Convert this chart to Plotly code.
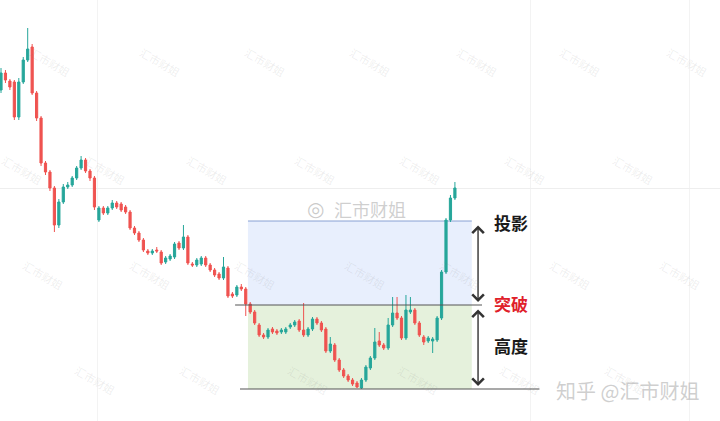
import plotly.graph_objects as go

# ---------------- data (price units) ----------------
opens = [331, 348, 340, 339, 304, 339, 361, 374, 328, 303,
         258, 249, 233, 196, 219, 234, 236, 243, 253, 261,
         250, 243, 201, 213, 208, 213, 218, 217, 214, 209,
         193, 188, 181, 170, 168, 171, 169, 159, 162, 164,
         178, 173, 184, 157, 156, 157, 163, 156, 151, 147,
         143, 153, 127, 126, 134, 132, 117, 109, 96, 86,
         84, 92, 90, 89, 89, 94, 96, 100, 91, 86,
         92, 102, 98, 92, 70, 76, 61, 51, 45, 41,
         38, 33, 41, 53, 63, 80, 76, 73, 96, 108,
         103, 83, 109, 111, 98, 84, 80, 80, 81, 103,
         149, 201, 223]
closes = [348, 341, 334, 304, 339, 361, 372, 328, 303, 258,
          249, 233, 196, 219, 234, 236, 243, 253, 261, 250,
          243, 214, 213, 208, 213, 218, 214, 211, 209, 193,
          188, 181, 171, 168, 170, 170, 158, 163, 165, 177,
          173, 184, 158, 156, 161, 163, 156, 151, 146, 143,
          154, 125, 125, 134, 132, 117, 109, 98, 86, 84,
          91, 89, 88, 91, 92, 96, 99, 91, 86, 92,
          102, 98, 91, 70, 77, 61, 51, 45, 41, 37,
          34, 41, 54, 63, 79, 76, 73, 96, 108, 103,
          83, 111, 111, 98, 86, 79, 83, 82, 103, 149,
          201, 223, 233]
highs = [353, 351, 342, 341, 343, 364, 393, 377, 330, 305,
         260, 251, 235, 222, 237, 239, 245, 255, 265, 263,
         252, 245, 215, 215, 215, 221, 220, 219, 216, 211,
         195, 190, 183, 172, 172, 174, 171, 165, 167, 179,
         180, 196, 186, 159, 163, 165, 165, 158, 153, 149,
         164, 155, 129, 136, 137, 134, 119, 111, 98, 88,
         93, 94, 92, 93, 94, 98, 101, 102, 118, 94,
         104, 104, 100, 94, 84, 78, 63, 53, 47, 43,
         40, 43, 56, 65, 93, 89, 78, 103, 124, 124,
         105, 126, 124, 113, 100, 86, 85, 84, 105, 151,
         203, 226, 239]
lows = [328, 338, 331, 301, 301, 337, 359, 326, 300, 255,
        246, 230, 189, 193, 217, 232, 234, 241, 251, 248,
        240, 211, 199, 206, 206, 211, 212, 209, 207, 191,
        186, 179, 169, 166, 166, 168, 156, 157, 160, 162,
        171, 171, 156, 154, 154, 155, 154, 149, 144, 141,
        141, 123, 123, 124, 130, 105, 107, 96, 84, 82,
        82, 87, 86, 87, 87, 92, 94, 89, 84, 84,
        90, 96, 89, 68, 68, 59, 49, 43, 39, 35,
        33, 32, 39, 51, 61, 74, 71, 71, 94, 101,
        81, 81, 107, 96, 84, 76, 78, 68, 79, 101,
        147, 199, 221]
bars = list(range(len(opens)))

# pattern (range box) definition
box_start, box_end = 55.5, 105.8        # bar index span of the boxes
breakout_level = 116                    # top of the trading range
range_bottom = min(lows[55:99])         # bottom of the trading range
height = breakout_level - range_bottom
projection = breakout_level + height    # measured-move target

labels = ["投影", "突破", "高度"]
label_colors = ["#1a1a1a", "#e0202a", "#1a1a1a"]
label_levels = [projection - 1, breakout_level + 2, range_bottom + height / 2 + 2]

UP, DOWN = "#26a69a", "#ef5350"

fig = go.Figure()
fig.add_trace(go.Candlestick(
    x=bars, open=opens, high=highs, low=lows, close=closes,
    increasing=dict(line=dict(color=UP, width=1), fillcolor=UP),
    decreasing=dict(line=dict(color=DOWN, width=1), fillcolor=DOWN),
    whiskerwidth=0, showlegend=False, hoverinfo="skip"))

shapes = [
    # projection box (blue)
    dict(type="rect", xref="x", yref="y", x0=box_start, x1=box_end,
         y0=breakout_level, y1=projection, layer="below", line_width=0,
         fillcolor="rgba(190,208,250,0.35)"),
    dict(type="line", xref="x", yref="y", x0=box_start, x1=box_end,
         y0=projection, y1=projection, layer="below",
         line=dict(color="rgba(110,140,200,0.8)", width=1)),
    # height box (green)
    dict(type="rect", xref="x", yref="y", x0=box_start, x1=box_end,
         y0=range_bottom, y1=breakout_level, layer="below", line_width=0,
         fillcolor="rgba(160,205,130,0.28)"),
    # breakout line
    dict(type="line", xref="x", yref="y", x0=52.6, x1=108.1,
         y0=breakout_level, y1=breakout_level,
         line=dict(color="#555555", width=1.2)),
    # bottom line
    dict(type="line", xref="x", yref="y", x0=53.7, x1=121.0,
         y0=range_bottom, y1=range_bottom,
         line=dict(color="#555555", width=1.2)),
]

annotations = []
arrow_x = 107.2
for y_from, y_to in [(projection, breakout_level), (breakout_level, range_bottom)]:
    annotations.append(dict(
        x=arrow_x, y=y_to, ax=arrow_x, ay=y_from,
        xref="x", yref="y", axref="x", ayref="y",
        text="", showarrow=True, arrowside="end+start",
        arrowhead=4, startarrowhead=4, arrowsize=1.6, startarrowsize=1.6,
        arrowwidth=1.4, arrowcolor="#333333", standoff=3, startstandoff=3))

for t, c, lv in zip(labels, label_colors, label_levels):
    annotations.append(dict(
        x=114.5, y=lv, xref="x", yref="y", text="<b>%s</b>" % t,
        showarrow=False, xanchor="center",
        font=dict(size=17, color=c, family="Noto Sans CJK SC")))

# faint rotated watermarks
wm_rows = [
    (62, [50, 160, 265, 370, 477, 580, 687]),
    (170, [22, 105, 207, 315, 420, 525, 633]),
    (275, [43, 150, 255, 365, 460, 570, 680]),
    (380, [95, 200, 308, 418, 520, 625]),
]
for py, xs in wm_rows:
    for px in xs:
        annotations.append(dict(
            x=px / 720, y=1 - py / 421, xref="paper", yref="paper",
            xanchor="center", yanchor="middle",
            text="汇市财姐", showarrow=False, textangle=30,
            font=dict(size=11, color="rgba(120,120,120,0.13)",
                      family="Noto Sans CJK SC")))

# weibo watermark
annotations.append(dict(x=315 / 720, y=1 - 209 / 421, xref="paper", yref="paper",
                        xanchor="center", yanchor="middle",
                        text="◎", showarrow=False,
                        font=dict(size=20, color="rgba(150,150,150,0.5)",
                                  family="DejaVu Sans")))
annotations.append(dict(x=370 / 720, y=1 - 209 / 421, xref="paper", yref="paper",
                        xanchor="center", yanchor="middle",
                        text="汇市财姐", showarrow=False,
                        font=dict(size=18, color="rgba(160,160,160,0.5)",
                                  family="Noto Sans CJK SC")))
# zhihu watermark
annotations.append(dict(x=627 / 720, y=1 - 390 / 421, xref="paper", yref="paper",
                        xanchor="center", yanchor="middle",
                        text="知乎 @汇市财姐", showarrow=False,
                        font=dict(size=20, color="rgba(175,175,175,0.6)",
                                  family="Noto Sans CJK SC")))

fig.update_layout(
    width=720, height=421, margin=dict(l=0, r=0, t=0, b=0),
    paper_bgcolor="white", plot_bgcolor="white",
    shapes=shapes, annotations=annotations, showlegend=False,
    xaxis=dict(range=[-0.225, 161.57], rangeslider=dict(visible=False),
               showticklabels=False, ticks="", zeroline=False,
               tickmode="array", tickvals=[21.6, 118.9, 154.8],
               showgrid=True, gridcolor="#f3f3f3", gridwidth=1, fixedrange=True),
    yaxis=dict(range=[0, 421], showticklabels=False, ticks="", zeroline=False,
               tickmode="array", tickvals=[233],
               showgrid=True, gridcolor="#eeeeee", gridwidth=1, fixedrange=True),
)

fig.write_html("out.html", config={"displayModeBar": False},
               post_script="document.body.style.margin='0';"
                           "document.body.style.overflow='hidden';")
